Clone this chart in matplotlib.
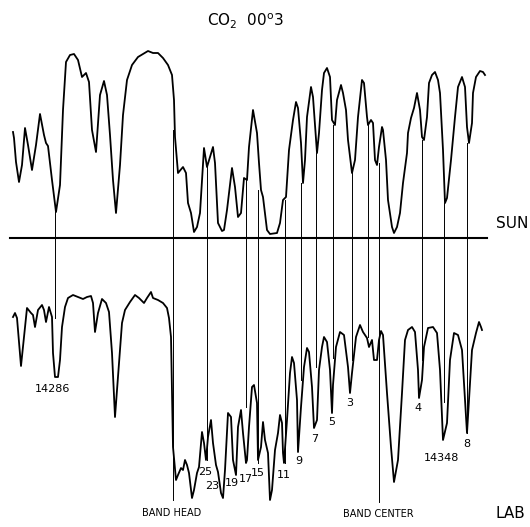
import matplotlib
matplotlib.use('Agg')
import matplotlib.pyplot as plt

# solar spectrum trace (x, y, pixel units, y down)
sun_x = [13, 14, 16, 19, 22, 25, 28, 32, 36, 40, 44, 46, 48, 52, 56, 60, 63, 66, 70, 74,
         78, 82, 86, 89, 92, 96, 100, 104, 107, 110, 113, 116, 120, 123, 127, 132, 138, 143,
         148, 153, 158, 163, 168, 172, 174, 175, 178, 183, 186, 188, 191, 194, 197, 200,
         204, 207, 213, 215, 218, 222, 224, 227, 232, 235, 238, 241, 244, 247, 249, 253,
         257, 259, 261, 263, 267, 270, 277, 280, 283, 286, 289, 293, 296, 298, 301, 303,
         305, 307, 311, 313, 317, 319, 322, 324, 327, 330, 332, 335, 337, 341, 343, 346,
         348, 352, 355, 358, 362, 364, 367, 368, 371, 373, 375, 377, 379, 382, 383, 386,
         388, 392, 394, 397, 400, 403, 407, 408, 411, 414, 417, 420, 422, 424, 427, 429,
         432, 435, 438, 440, 443, 445, 447, 451, 455, 458, 462, 465, 467, 469, 472, 473,
         476, 480, 483, 485]
sun_y = [132, 138, 162, 182, 165, 128, 145, 170, 145, 114, 135, 143, 146, 180, 212, 185, 110,
         62, 55, 54, 60, 77, 73, 82, 130, 152, 95, 81, 95, 135, 180, 213, 165, 115, 80, 65,
         57, 54, 51, 53, 53, 58, 65, 75, 100, 137, 173, 167, 173, 203, 213, 232, 227, 213,
         148, 167, 147, 163, 223, 231, 230, 210, 168, 187, 217, 213, 178, 180, 147, 110,
         133, 163, 190, 197, 230, 234, 233, 223, 200, 197, 150, 120, 102, 108, 143, 183,
         160, 117, 87, 97, 153, 133, 90, 73, 68, 77, 120, 125, 100, 85, 93, 110, 140, 173,
         160, 117, 80, 83, 117, 125, 120, 123, 160, 165, 147, 127, 130, 160, 200, 227, 233,
         227, 213, 183, 153, 133, 118, 108, 93, 110, 137, 140, 117, 83, 75, 72, 80, 93, 150,
         203, 198, 160, 117, 87, 77, 87, 127, 143, 123, 93, 77, 71, 72, 75]

# laboratory spectrum trace
lab_x = [13, 15, 17, 21, 23, 27, 31, 33, 35, 38, 42, 44, 46, 49, 52, 53, 55, 58, 60, 62,
         65, 68, 73, 78, 83, 87, 91, 93, 95, 98, 102, 106, 109, 112, 115, 118, 122, 125,
         130, 135, 139, 144, 147, 151, 153, 158, 163, 167, 169, 171, 172, 173, 176, 178,
         181, 183, 185, 187, 189, 192, 194, 197, 199, 202, 204, 206, 208, 211, 213, 216,
         218, 221, 223, 225, 228, 231, 233, 236, 238, 241, 243, 246, 247, 249, 252, 254,
         257, 258, 261, 263, 265, 268, 270, 272, 275, 278, 280, 282, 283, 284, 287, 290,
         292, 294, 297, 298, 301, 304, 307, 309, 312, 314, 317, 319, 322, 324, 327, 330,
         332, 333, 336, 340, 344, 348, 350, 352, 356, 360, 363, 367, 369, 372, 374, 377,
         379, 381, 383, 387, 391, 394, 398, 402, 405, 408, 412, 415, 418, 419, 422, 424,
         428, 433, 437, 440, 443, 447, 450, 454, 458, 462, 464, 467, 469, 472, 476, 479,
         481, 482]
lab_y = [317, 313, 318, 366, 347, 308, 313, 315, 327, 310, 305, 310, 322, 307, 317, 353, 377,
         377, 360, 327, 307, 298, 295, 297, 299, 297, 296, 303, 332, 313, 299, 303, 312,
         353, 417, 377, 323, 310, 302, 295, 298, 303, 298, 292, 298, 300, 303, 308, 318,
         337, 393, 447, 480, 475, 468, 470, 460, 465, 473, 498, 490, 473, 467, 432, 443,
         460, 437, 420, 443, 465, 472, 493, 498, 470, 413, 417, 460, 475, 427, 410, 433,
         463, 460, 427, 387, 385, 403, 460, 447, 422, 440, 453, 500, 490, 450, 433, 415,
         423, 453, 463, 420, 373, 357, 363, 400, 452, 407, 367, 348, 352, 387, 428, 420,
         370, 347, 337, 342, 370, 413, 385, 347, 332, 335, 367, 393, 373, 337, 325, 332,
         338, 347, 340, 360, 360, 340, 331, 335, 393, 447, 482, 460, 393, 340, 330, 327,
         332, 370, 398, 380, 347, 328, 327, 333, 370, 440, 423, 360, 333, 335, 350, 383,
         433, 400, 350, 333, 322, 327, 330]

# tie lines between the two spectra: x, top y, bottom y
tie_x = [55, 173, 207, 246, 258, 285, 301, 316, 333, 352, 368, 379, 422, 444, 467]
tie_top = [212, 130, 167, 180, 190, 200, 183, 153, 125, 173, 125, 163, 140, 203, 143]
tie_bot = [318, 500, 460, 407, 463, 463, 380, 367, 358, 360, 337, 502, 360, 402, 433]

# line labels
lab_labels = ['14286', '25', '23', '19', '17', '15', '11', '9', '7', '5', '3',
              '4', '14348', '8']
label_x = [53, 205, 212, 232, 246, 258, 284, 299, 315, 332, 350, 418, 442, 467]
label_y = [389, 472, 486, 483, 479, 473, 475, 461, 439, 422, 403, 408, 458, 444]

fig = plt.figure(figsize=(5.30, 5.27), dpi=100)
ax = fig.add_axes([0, 0, 1, 1])
ax.set_xlim(0, 530)
ax.set_ylim(527, 0)
ax.axis('off')

ax.plot(sun_x, sun_y, color='black', lw=1.3, solid_joinstyle='round')
ax.plot(lab_x, lab_y, color='black', lw=1.3, solid_joinstyle='round')

# sun baseline
ax.plot([10, 487], [238, 238], color='black', lw=1.5)

for x, y0, y1 in zip(tie_x, tie_top, tie_bot):
    ax.plot([x, x], [y0, y1], color='black', lw=0.7)

for t, x, y in zip(lab_labels, label_x, label_y):
    ax.text(x, y, t, ha='center', va='center', fontsize=8)

ax.text(245, 21, 'CO$_2$  00$^{\\mathrm{o}}$3', ha='center', va='center', fontsize=11)
ax.text(512, 224, 'SUN', ha='center', va='center', fontsize=11)
ax.text(510, 514, 'LAB', ha='center', va='center', fontsize=11)
ax.text(172, 513, 'BAND HEAD', ha='center', va='center', fontsize=7)
ax.text(378, 514, 'BAND CENTER', ha='center', va='center', fontsize=7)

fig.savefig('out.png', dpi=100, facecolor='white')
